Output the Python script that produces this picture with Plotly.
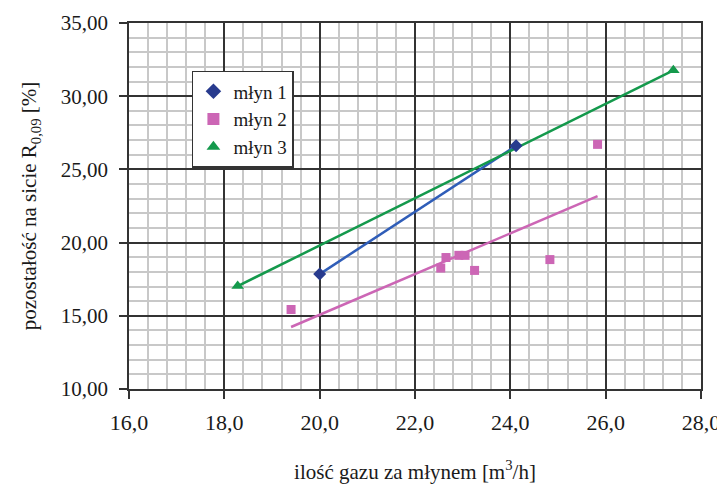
import numpy as np
import plotly.graph_objects as go

# Data
m1_x = [20.0, 24.12]
m1_y = [17.85, 26.62]

m2_x = [19.40, 22.54, 22.65, 22.92, 23.05, 23.25, 24.83, 25.83]
m2_y = [15.43, 18.26, 18.98, 19.13, 19.13, 18.10, 18.84, 26.71]

m3_x = [18.28, 27.42]
m3_y = [17.03, 31.77]

series_names = ["młyn 1", "młyn 2", "młyn 3"]
x_ticks = [16.0, 18.0, 20.0, 22.0, 24.0, 26.0, 28.0]
y_ticks = [10.0, 15.0, 20.0, 25.0, 30.0, 35.0]

FONT = "'Liberation Serif', 'Times New Roman', Times, serif"


def trend(xs, ys):
    k, b = np.polyfit(xs, ys, 1)
    xx = np.array([min(xs), max(xs)])
    return xx, k * xx + b


fig = go.Figure()

# trend lines
for xs, ys, col in [(m1_x, m1_y, "#2F5DB8"), (m2_x, m2_y, "#CC66B5"), (m3_x, m3_y, "#14994C")]:
    tx, ty = trend(xs, ys)
    fig.add_trace(go.Scatter(x=tx, y=ty, mode="lines", line=dict(color=col, width=2.5),
                             showlegend=False, hoverinfo="skip"))

fig.add_trace(go.Scatter(x=m1_x, y=m1_y, mode="markers", name=series_names[0],
                         marker=dict(symbol="diamond", size=10, color="#283B8E")))
fig.add_trace(go.Scatter(x=m2_x, y=m2_y, mode="markers", name=series_names[1],
                         marker=dict(symbol="square", size=9, color="#CC66B5")))
fig.add_trace(go.Scatter(x=m3_x, y=m3_y, mode="markers", name=series_names[2],
                         marker=dict(symbol="triangle-up", size=11, color="#14994C")))

fig.update_layout(
    width=725, height=486,
    margin=dict(l=121, r=32, t=15, b=105, autoexpand=False),
    paper_bgcolor="white", plot_bgcolor="white",
    separators=", ",
    font=dict(family=FONT, size=20, color="#1a1a1a"),
    showlegend=True,
    legend=dict(x=0.110, y=0.869, xanchor="left", yanchor="top",
                bgcolor="white", bordercolor="#333333", borderwidth=1.5,
                font=dict(family=FONT, size=19, color="#1a1a1a"),
                itemsizing="constant", tracegroupgap=0),
)

fig.update_xaxes(
    range=[16, 28], tickvals=x_ticks, tickformat=".1f", automargin=False,
    showgrid=True, gridcolor="#333333", gridwidth=1.5,
    minor=dict(dtick=0.4, showgrid=True, gridcolor="#C8C8C8", gridwidth=1.5),
    showline=True, linecolor="#333333", linewidth=1.5, mirror=True,
    ticks="outside", ticklen=8, tickcolor="#333333", tickwidth=1.5,
    ticklabelstandoff=5,
    tickfont=dict(family=FONT, size=22), zeroline=False,
    title=dict(text="ilość gazu za młynem [m<sup>3</sup>/h]",
               font=dict(family=FONT, size=21), standoff=30),
)
fig.update_yaxes(
    range=[10, 35], tickvals=y_ticks, tickformat=".2f", automargin=False,
    showgrid=True, gridcolor="#333333", gridwidth=1.5,
    minor=dict(dtick=1, showgrid=True, gridcolor="#C8C8C8", gridwidth=1.5),
    showline=True, linecolor="#333333", linewidth=1.5, mirror=True,
    ticks="outside", ticklen=8, tickcolor="#333333", tickwidth=1.5,
    ticklabelstandoff=7,
    tickfont=dict(family=FONT, size=21), zeroline=False,
    title=dict(text="pozostałość na sicie R<sub>0,09</sub> [%]",
               font=dict(family=FONT, size=21), standoff=18),
)

fig.write_html("out.html")
